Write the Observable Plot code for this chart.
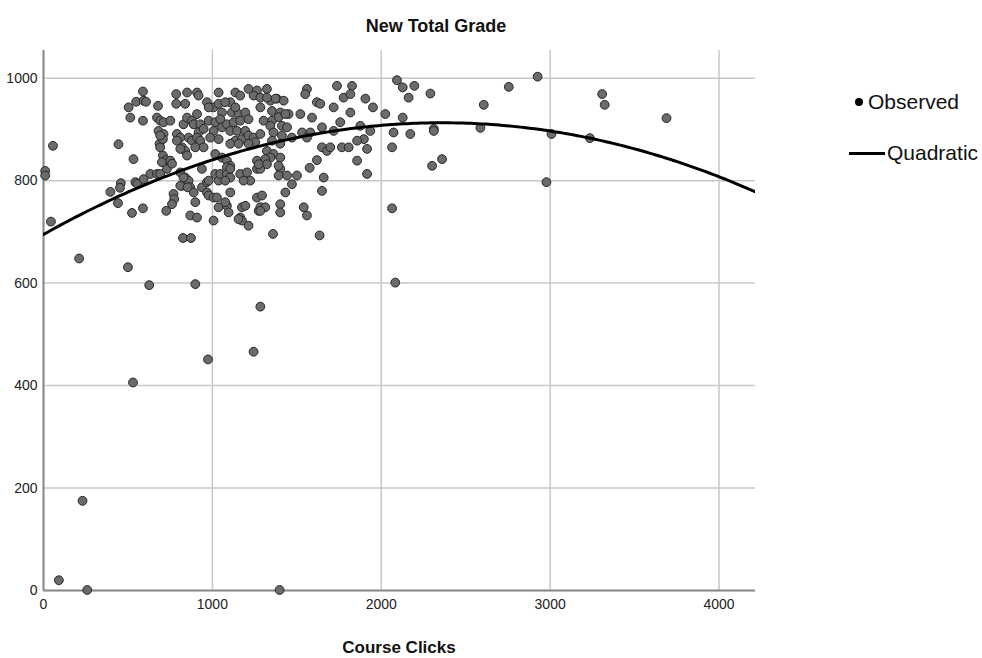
<!DOCTYPE html>
<html><head><meta charset="utf-8">
<script src="https://cdn.jsdelivr.net/npm/d3@7"></script>
<script src="https://cdn.jsdelivr.net/npm/@observablehq/plot@0.6"></script>
<style>
body{margin:0;background:#fff;}
#wrap{position:relative;width:982px;height:658px;font-family:Arial,"Liberation Sans",sans-serif;color:#111;}
#chart{position:absolute;left:0;top:0;}
#title{position:absolute;top:16px;left:436px;transform:translateX(-50%);font-weight:bold;font-size:18px;white-space:nowrap;}
#xlabel{position:absolute;top:638px;left:399px;transform:translateX(-50%);font-weight:bold;font-size:17px;white-space:nowrap;}
.leg{position:absolute;font-size:21px;white-space:nowrap;display:flex;align-items:center;}
.leg .dot{width:8px;height:8px;border-radius:50%;background:#000;margin-right:5px;}
.leg .ln{width:36px;height:3px;background:#000;margin-right:2px;}
</style></head>
<body>
<div id="wrap">
  <div id="chart"></div>
  <div id="title">New Total Grade</div>
  <div id="xlabel">Course Clicks</div>
  <div class="leg" style="left:855px;top:90px;"><span class="dot"></span>Observed</div>
  <div class="leg" style="left:849px;top:141px;"><span class="ln"></span>Quadratic</div>
</div>
<script>
// Course clicks (x) and new total grade (y)
const points = [
[10,819],[10,810],[56,868],[44,720],[211,648],[500,631],[626,596],[899,598],[1284,554],[1244,466],[974,451],[530,406],[2083,601],[231,175],[91,20],[259,1],[1398,1],
[396,778],[441,756],[458,795],[453,786],[444,871],[533,842],[524,737],[589,746],
[544,797],[556,794],[593,803],[633,813],[672,813],
[504,943],[514,923],[549,954],[593,956],[589,974],[607,954],[589,917],[678,946],
[672,923],[691,917],[711,914],[751,917],
[681,897],[711,891],[687,872],[707,881],[691,865],
[707,849],[725,840],[701,836],[751,839],[731,823],
[770,774],[774,764],[761,754],[727,741],
[786,969],[850,972],[909,972],[918,966],[786,950],[839,950],
[790,891],[810,884],[790,878],[820,865],[839,858],[850,849],
[829,910],[850,923],[879,917],[889,910],[909,930],[928,910],[918,894],[948,901],
[859,884],[879,878],[909,884],[928,878],[899,865],[948,865],
[810,816],[839,806],[820,790],[859,800],[869,787],[889,777],
[869,732],[909,728],[899,758],[826,688],[873,688],
[938,823],[938,787],[968,777],[978,771],[1007,767],
[968,953],[1007,943],[1037,972],[1037,950],[1057,933],
[978,917],[1017,914],[1047,920],[1057,904],[1007,897],[1037,881],[987,884],[1086,910],[1106,897],
[1017,852],[1057,845],[1086,839],[1106,829],[1086,826],
[1017,813],[1037,800],[1047,813],[1086,813],[1106,823],[1106,806],
[1027,767],[1037,748],[1086,751],[1096,738],[1007,722],[1106,777],
[1136,972],[1165,966],[1106,953],
[1116,933],[1155,930],[1195,933],
[1126,914],[1165,917],[1214,920],
[1146,897],[1195,897],[1136,878],[1175,881],[1214,888],
[1106,872],[1155,872],[1244,884],[1254,875],
[1165,813],[1205,816],[1224,800],[1264,839],[1264,823],
[1175,748],[1195,751],[1165,728],[1175,722],[1214,712],[1264,767],[1274,741],
[1214,979],[1264,976],[1244,966],
[1323,979],[1284,962],[1343,956],[1382,960],[1422,956],
[1284,943],[1353,936],[1402,933],[1451,930],
[1303,917],[1353,917],[1412,907],[1442,904],[1343,907],
[1284,891],[1362,894],[1412,888],[1471,884],[1353,878],[1402,872],
[1323,858],[1362,852],[1402,845],[1343,845],
[1313,842],[1284,823],[1323,832],
[1402,823],[1392,810],[1442,810],[1471,793],[1501,810],[1432,777],
[1284,748],[1313,748],[1402,754],[1402,738],[1541,748],[1560,732],[1294,771],
[1359,696],[1635,693],
[1560,979],[1550,969],[1521,930],[1590,923],
[1531,894],[1580,894],[1560,884],
[1619,953],[1639,950],[1649,904],[1718,943],[1718,897],[1757,914],
[1649,865],[1679,858],[1698,865],
[1619,840],[1576,825],[1659,806],[1649,780],
[1738,985],[1827,985],[1777,962],[1817,969],[1817,933],[1906,960],[1951,943],
[1876,907],[1935,897],[1897,881],[1857,878],[1767,865],[1807,865],[1916,862],[1857,839],[1916,813],
[2024,930],[2127,923],[2093,996],[2127,982],[2162,962],[2196,985],[2291,970],
[2073,894],[2172,891],[2064,865],[2311,901],[2311,897],[2301,829],[2360,842],[2064,746],
[2587,903],[2607,948],
[2755,983],[2926,1003],[3008,891],[2978,797],[3235,883],[3308,969],[3323,948],[3689,922],
[1373,960],[1392,924],[1432,930],[1214,872],[691,888],[810,862],[829,806],[810,790],[853,787],
[968,797],[691,813],[761,833],[1076,800],[978,800],[1076,758],[1185,800],[1274,832],[1392,829],
[1284,741],[1155,725],[1323,962],[978,943],[1076,953],[1136,943]
];
const clicks = points.map(p => p[0]);
const grades = points.map(p => p[1]);
const xTicks = [0, 1000, 2000, 3000, 4000];
const yTicks = [0, 200, 400, 600, 800, 1000];
const xDomain = [0, 4216];
const yDomain = [0, 1054];
// Quadratic fit coefficients (intercept, linear, quadratic)
const quadCoef = [695, 0.1847, -0.00003914];

const data = clicks.map((c, i) => ({clicks: c, grade: grades[i]}));
const curveX = d3.range(0, 201).map(i => xDomain[0] + (xDomain[1] - xDomain[0]) * i / 200);
const curve = curveX.map(x => ({clicks: x, grade: quadCoef[0] + quadCoef[1] * x + quadCoef[2] * x * x}));

const chart = Plot.plot({
  width: 982,
  height: 658,
  marginLeft: 43,
  marginRight: 227,
  marginTop: 50,
  marginBottom: 68,
  style: {fontFamily: '"Liberation Sans Narrow", "Arial Narrow", Arial, sans-serif', fontSize: "14px", color: "#222", background: "white"},
  x: {domain: xDomain, ticks: xTicks, label: null},
  y: {domain: yDomain, ticks: yTicks, label: null},
  marks: [
    Plot.gridX(xTicks, {stroke: "#c8c8c8", strokeOpacity: 1, strokeWidth: 1.5}),
    Plot.gridY(yTicks, {stroke: "#c8c8c8", strokeOpacity: 1, strokeWidth: 1.5}),
    Plot.axisX(xTicks, {tickSize: 0, tickPadding: 9, fontSize: 14, tickFormat: d => String(d)}),
    Plot.axisY(yTicks, {tickSize: 0, tickPadding: 6, fontSize: 14, tickFormat: d => String(d)}),
    Plot.ruleX([0], {stroke: "#8a8a8a", strokeWidth: 2}),
    Plot.ruleY([0], {stroke: "#8a8a8a", strokeWidth: 2}),
    Plot.dot(data, {x: "clicks", y: "grade", r: 4.4, fill: "#6b6b6b", stroke: "#262626", strokeWidth: 1, fillOpacity: 1}),
    Plot.line(curve, {x: "clicks", y: "grade", stroke: "black", strokeWidth: 3, clip: true})
  ]
});
document.getElementById("chart").appendChild(chart);
</script>
</body></html>
